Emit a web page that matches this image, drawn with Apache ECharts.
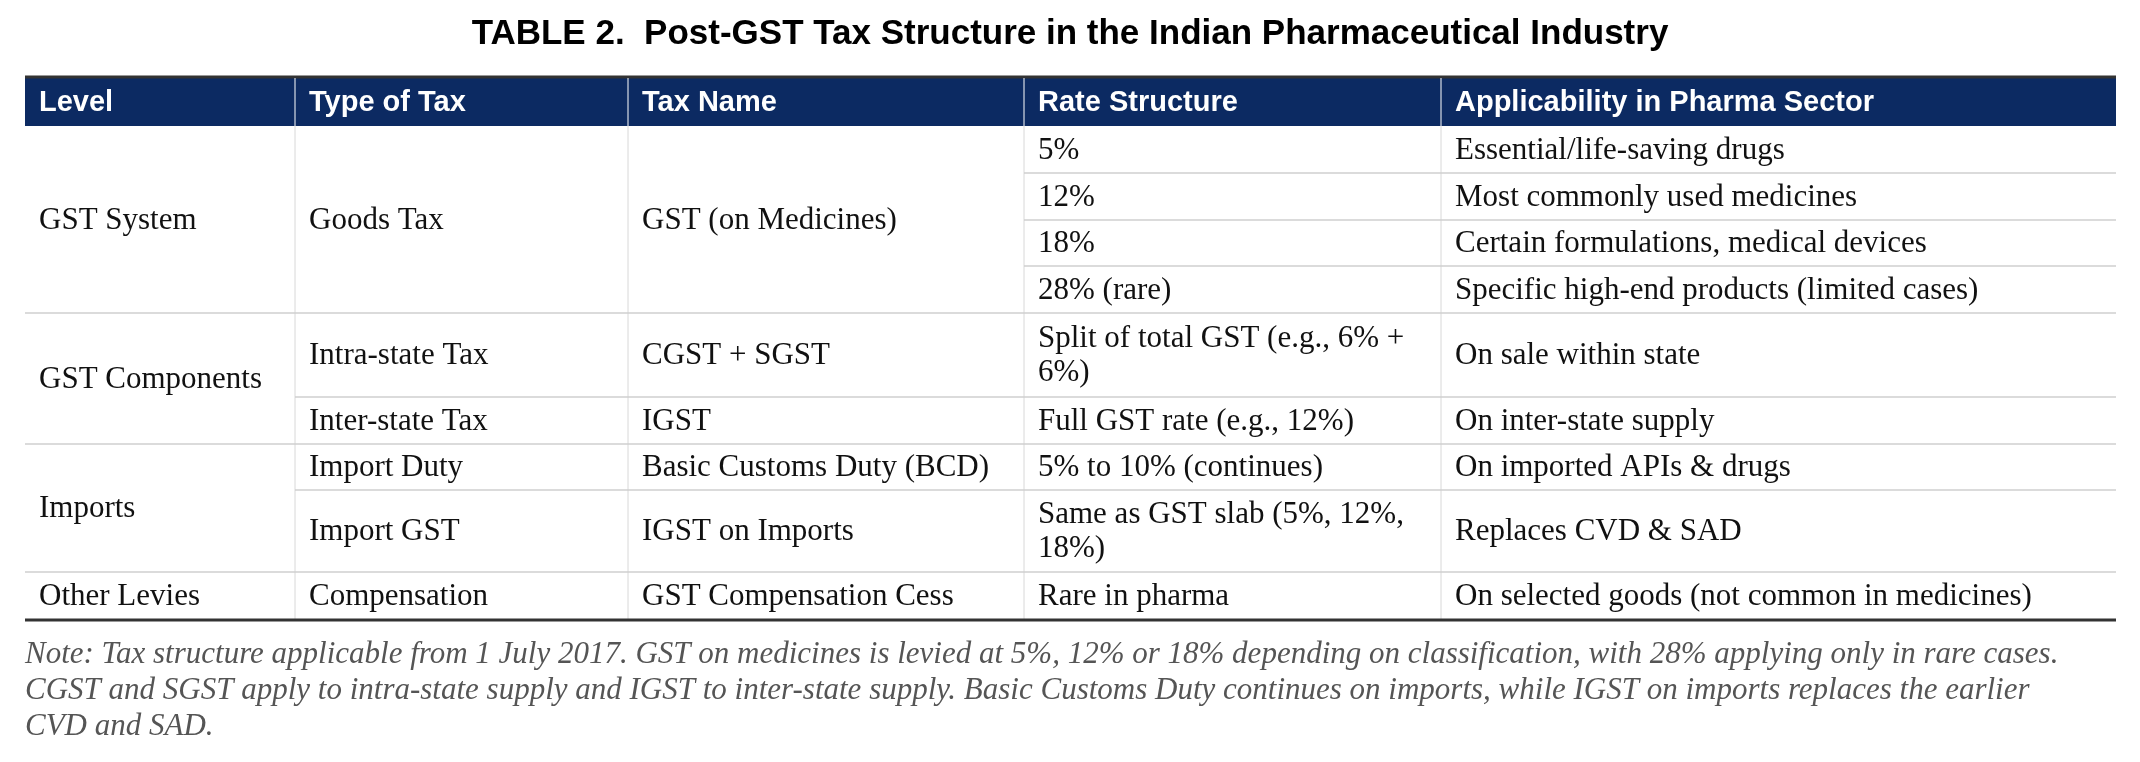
<!DOCTYPE html>
<html>
<head>
<meta charset="utf-8">
<script src="https://cdn.jsdelivr.net/npm/echarts@6/dist/echarts.min.js"></script>
<style>
  html, body { margin: 0; padding: 0; background: #fff; }
  #main { width: 2140px; height: 762px; }
</style>
</head>
<body>
<div id="main"></div>
<script>
const titleText = 'TABLE 2.  Post-GST Tax Structure in the Indian Pharmaceutical Industry';
const headers = ['Level', 'Type of Tax', 'Tax Name', 'Rate Structure', 'Applicability in Pharma Sector'];
// each cell: [column, firstRow, lastRow, text]
const cells = [
  [0, 0, 3, 'GST System'],
  [1, 0, 3, 'Goods Tax'],
  [2, 0, 3, 'GST (on Medicines)'],
  [3, 0, 0, '5%'], [4, 0, 0, 'Essential/life-saving drugs'],
  [3, 1, 1, '12%'], [4, 1, 1, 'Most commonly used medicines'],
  [3, 2, 2, '18%'], [4, 2, 2, 'Certain formulations, medical devices'],
  [3, 3, 3, '28% (rare)'], [4, 3, 3, 'Specific high-end products (limited cases)'],
  [0, 4, 5, 'GST Components'],
  [1, 4, 4, 'Intra-state Tax'], [2, 4, 4, 'CGST + SGST'],
  [3, 4, 4, 'Split of total GST (e.g., 6% + 6%)'], [4, 4, 4, 'On sale within state'],
  [1, 5, 5, 'Inter-state Tax'], [2, 5, 5, 'IGST'],
  [3, 5, 5, 'Full GST rate (e.g., 12%)'], [4, 5, 5, 'On inter-state supply'],
  [0, 6, 7, 'Imports'],
  [1, 6, 6, 'Import Duty'], [2, 6, 6, 'Basic Customs Duty (BCD)'],
  [3, 6, 6, '5% to 10% (continues)'], [4, 6, 6, 'On imported APIs & drugs'],
  [1, 7, 7, 'Import GST'], [2, 7, 7, 'IGST on Imports'],
  [3, 7, 7, 'Same as GST slab (5%, 12%, 18%)'], [4, 7, 7, 'Replaces CVD & SAD'],
  [0, 8, 8, 'Other Levies'], [1, 8, 8, 'Compensation'], [2, 8, 8, 'GST Compensation Cess'],
  [3, 8, 8, 'Rare in pharma'], [4, 8, 8, 'On selected goods (not common in medicines)']
];
const noteLines = [
  'Note: Tax structure applicable from 1 July 2017. GST on medicines is levied at 5%, 12% or 18% depending on classification, with 28% applying only in rare cases.',
  'CGST and SGST apply to intra-state supply and IGST to inter-state supply. Basic Customs Duty continues on imports, while IGST on imports replaces the earlier',
  'CVD and SAD.'
];

// layout
const colX = [25, 295, 628, 1024, 1441, 2116];
const headTop = 78, headBottom = 126;
const rowY = [126, 173, 220, 266, 313, 397, 444, 490, 572, 620];
const pad = 14;

const g = [];
g.push({ type: 'text', left: 'center', top: 17, style: { text: titleText, font: 'bold 35px "Liberation Sans", Arial', fill: '#000' } });
g.push({ type: 'rect', shape: { x: colX[0], y: headTop, width: colX[5] - colX[0], height: headBottom - headTop }, style: { fill: '#0c2a62' } });
g.push({ type: 'line', shape: { x1: colX[0], y1: headTop - 1, x2: colX[5], y2: headTop - 1 }, style: { stroke: '#333', lineWidth: 3 } });
headers.forEach((h, i) => {
  g.push({ type: 'text', x: colX[i] + pad, y: (headTop + headBottom) / 2 + 1, style: { text: h, font: 'bold 29px "Liberation Sans", Arial', fill: '#fff', verticalAlign: 'middle' } });
  if (i > 0) g.push({ type: 'line', shape: { x1: colX[i], y1: headTop, x2: colX[i], y2: headBottom }, style: { stroke: '#fff', lineWidth: 1 } });
});
for (let i = 1; i < 5; i++) {
  g.push({ type: 'line', shape: { x1: colX[i], y1: headBottom, x2: colX[i], y2: rowY[9] }, style: { stroke: '#d8d8d8', lineWidth: 1 } });
}
cells.forEach(([c, r0, r1, t]) => {
  const yb = rowY[r1 + 1];
  const yc = (rowY[r0] + yb) / 2 + 1;
  g.push({ type: 'text', x: colX[c] + pad, y: yc, style: {
    text: t, font: '31px "Liberation Serif", "Times New Roman"', fill: '#111', verticalAlign: 'middle',
    width: colX[c + 1] - colX[c] - 2 * pad, overflow: 'break', lineHeight: 34 } });
  if (r1 < 8) {
    g.push({ type: 'line', shape: { x1: colX[c], y1: yb, x2: colX[c + 1], y2: yb }, style: { stroke: '#cfcfcf', lineWidth: 1.5 } });
  }
});
g.push({ type: 'line', shape: { x1: colX[0], y1: rowY[9], x2: colX[5], y2: rowY[9] }, style: { stroke: '#333', lineWidth: 3 } });
noteLines.forEach((t, i) => {
  g.push({ type: 'text', x: colX[0], y: 655 + i * 36, style: {
    text: t, font: 'italic 31px "Liberation Serif", "Times New Roman"', fill: '#555', verticalAlign: 'middle' } });
});

const chart = echarts.init(document.getElementById('main'));
chart.setOption({ backgroundColor: '#fff', graphic: g });
</script>
</body>
</html>
